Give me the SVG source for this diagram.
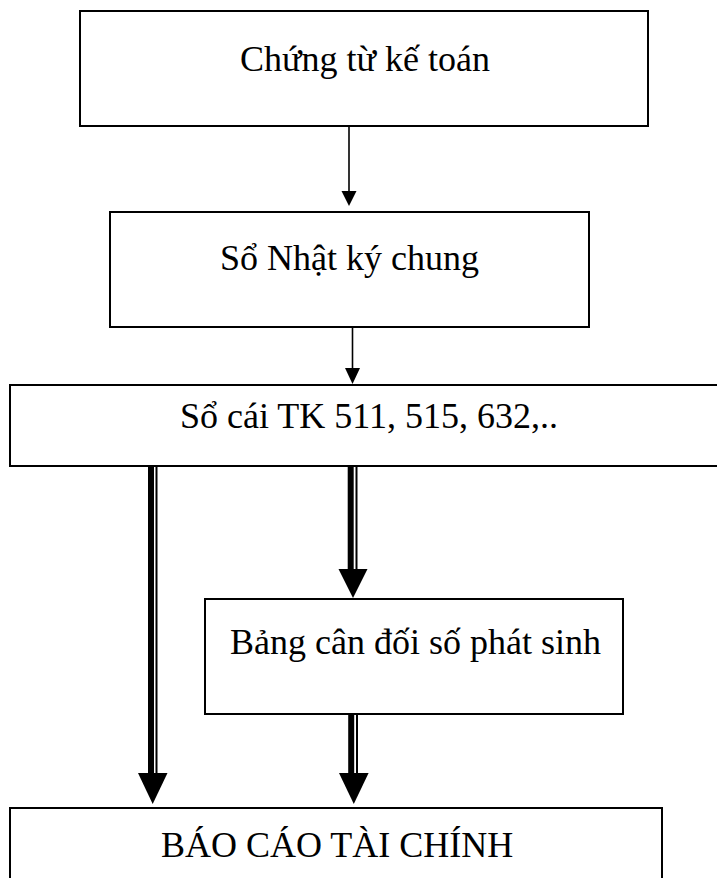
<svg xmlns="http://www.w3.org/2000/svg" width="717" height="878" viewBox="0 0 717 878">
  <style>
    .box { fill: #ffffff; stroke: #000000; stroke-width: 2; }
    .label { font-family: "Liberation Serif", "Times New Roman", serif; font-size: 36px; fill: #000000; }
    .thin { stroke: #000000; stroke-width: 1.6; fill: none; }
    .thick { stroke: #000000; stroke-width: 6; fill: none; }
    .rail { stroke: #000000; stroke-width: 2; fill: none; }
    .head { fill: #000000; }
  </style>
  <rect width="717" height="878" fill="#ffffff"/>

  <g id="chung-tu">
    <rect class="box" x="80" y="11" width="568" height="115"/>
    <text class="label" x="240" y="71">Chứng từ kế toán</text>
  </g>

  <g id="nhat-ky-chung">
    <rect class="box" x="110" y="212" width="479" height="115"/>
    <text class="label" x="220" y="270">Sổ Nhật ký chung</text>
  </g>

  <g id="so-cai">
    <rect class="box" x="10" y="385" width="730" height="81"/>
    <text class="label" x="180" y="428">Sổ cái TK 511, 515, 632,..</text>
  </g>

  <g id="bang-can-doi">
    <rect class="box" x="205" y="599" width="418" height="115"/>
    <text class="label" x="230" y="654">Bảng cân đối số phát sinh</text>
  </g>

  <g id="bao-cao">
    <rect class="box" x="10" y="808" width="652" height="100"/>
    <text class="label" x="161" y="857">BÁO CÁO TÀI CHÍNH</text>
  </g>

  <g id="connectors">
    <!-- single arrows -->
    <line class="thin" x1="349" y1="126" x2="349" y2="192"/>
    <polygon class="head" points="341.5,191 356.5,191 349,206"/>
    <line class="thin" x1="352.5" y1="327" x2="352.5" y2="369"/>
    <polygon class="head" points="345,368 360,368 352.5,384"/>

    <!-- double-rail arrow: ledger to report -->
    <line class="thick" x1="151" y1="466" x2="151" y2="774"/>
    <line class="rail" x1="156.5" y1="466" x2="156.5" y2="774"/>
    <polygon class="head" points="138,773 167.5,773 152.7,804"/>

    <!-- double-rail arrow: ledger to trial balance -->
    <line class="thick" x1="350.7" y1="466" x2="350.7" y2="570"/>
    <line class="rail" x1="356.5" y1="466" x2="356.5" y2="570"/>
    <polygon class="head" points="338.5,569 367.5,569 353,598"/>

    <!-- double-rail arrow: trial balance to report -->
    <line class="thick" x1="351.2" y1="714" x2="351.2" y2="774"/>
    <line class="rail" x1="357" y1="714" x2="357" y2="774"/>
    <polygon class="head" points="339,773 368.6,773 353.8,804"/>
  </g>
</svg>
